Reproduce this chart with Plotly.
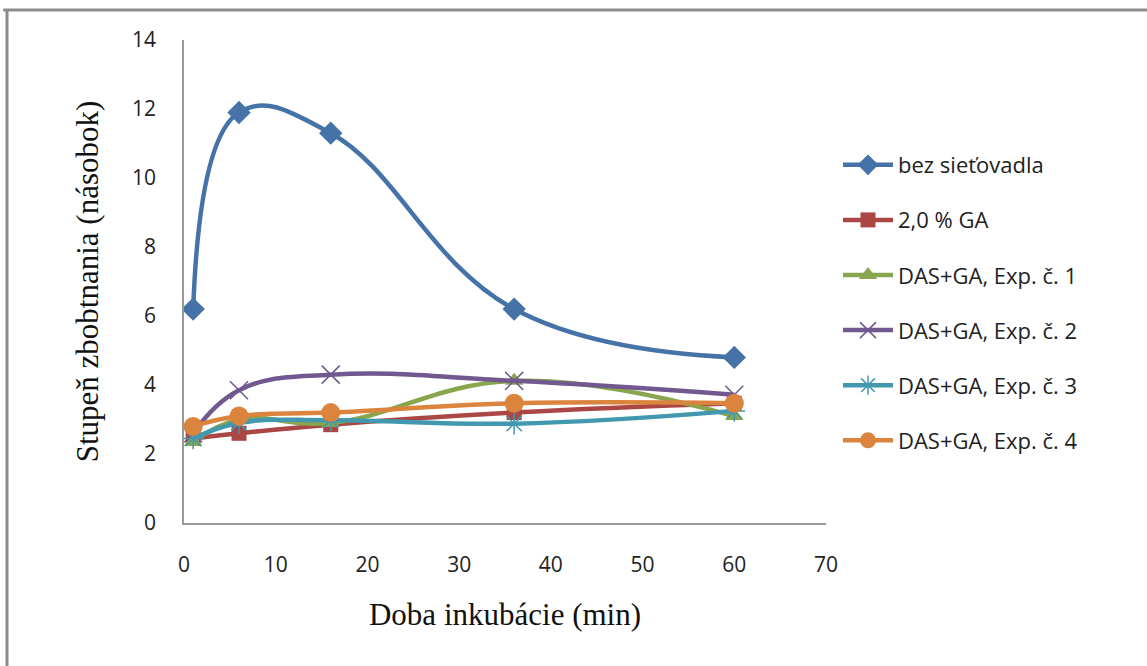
import plotly.graph_objects as go

# Incubation time (min)
time_min = [1, 6, 16, 36, 60]

series_names = [
    "bez sieťovadla",
    "2,0 % GA",
    "DAS+GA, Exp. č. 1",
    "DAS+GA, Exp. č. 2",
    "DAS+GA, Exp. č. 3",
    "DAS+GA, Exp. č. 4",
]

# Swelling degree (multiple) per series
bez_sietovadla = [6.2, 11.9, 11.3, 6.2, 4.8]
ga_2 = [2.45, 2.6, 2.85, 3.2, 3.47]
das_ga_1 = [2.35, 3.0, 2.9, 4.12, 3.1]
das_ga_2 = [2.6, 3.85, 4.3, 4.12, 3.72]
das_ga_3 = [2.45, 2.9, 2.98, 2.88, 3.25]
das_ga_4 = [2.8, 3.1, 3.2, 3.47, 3.47]

y_ticks = [0, 2, 4, 6, 8, 10, 12, 14]
x_ticks = [0, 10, 20, 30, 40, 50, 60, 70]

values = [bez_sietovadla, ga_2, das_ga_1, das_ga_2, das_ga_3, das_ga_4]
colors = ["#4572A7", "#AA4643", "#89A54E", "#71588F", "#4198AF", "#DB843D"]
symbols = ["diamond", "square", "triangle-up", "x-thin-open", "asterisk-open", "circle"]
sizes = [18, 15, 16, 18, 18, 19]

W, H = 1147, 666
ML, MR, MT, MB = 184, 321, 40, 143
PW, PH = W - ML - MR, H - MT - MB

fig = go.Figure()
for i, (name, ys) in enumerate(zip(series_names, values)):
    marker = dict(symbol=symbols[i], size=sizes[i], color=colors[i])
    if symbols[i].endswith("-open"):
        marker["line"] = dict(color=colors[i], width=1.5)
    fig.add_trace(go.Scatter(
        x=time_min, y=ys, name=name, mode="lines+markers",
        line=dict(color=colors[i], width=4.5, shape="spline", smoothing=1.2),
        marker=marker, legendgroup=f"g{i}",
    ))


def px_to_paper(px, py):
    return (px - ML) / PW, (H - MB - py) / PH


# outer chart frame (top and left edges)
x0, y0 = px_to_paper(7, 10)
x1, _ = px_to_paper(W + 5, 10)
_, y1 = px_to_paper(7, H + 5)
frame = dict(color="#8c8c8c", width=3)
fig.add_shape(type="line", xref="paper", yref="paper", x0=x0 - 0.006, y0=y0, x1=x1, y1=y0, line=frame)
fig.add_shape(type="line", xref="paper", yref="paper", x0=x0, y0=y0, x1=x0, y1=y1, line=frame)

tick_font = dict(family="Open Sans, sans-serif", size=21, color="#222222")
title_font = dict(family="Liberation Serif, Times New Roman, serif", size=31, color="#111111")

fig.update_layout(
    width=W, height=H,
    margin=dict(l=ML, r=MR, t=MT, b=MB, pad=0),
    paper_bgcolor="white", plot_bgcolor="white",
    showlegend=True,
    legend=dict(
        x=(838 - ML) / PW, y=(H - MB - 144) / PH, xanchor="left", yanchor="top",
        font=dict(family="Open Sans, sans-serif", size=22, color="#222222"),
        tracegroupgap=23.5, itemwidth=50, bgcolor="rgba(0,0,0,0)",
    ),
    xaxis=dict(
        range=[0, 70], tickvals=x_ticks, showgrid=False, zeroline=False,
        showline=True, linecolor="#999999", linewidth=1.5, ticks="",
        ticklabelstandoff=22, tickfont=tick_font,
        title=dict(text="Doba inkubácie (min)", font=title_font, standoff=26),
    ),
    yaxis=dict(
        range=[0, 14], tickvals=y_ticks, showgrid=False, zeroline=False,
        showline=True, linecolor="#999999", linewidth=1.5, ticks="",
        ticklabelstandoff=22, tickfont=tick_font,
        title=dict(text="Stupeň zbobtnania (násobok)", font=title_font, standoff=24),
    ),
)

fig.write_html("out.html")
